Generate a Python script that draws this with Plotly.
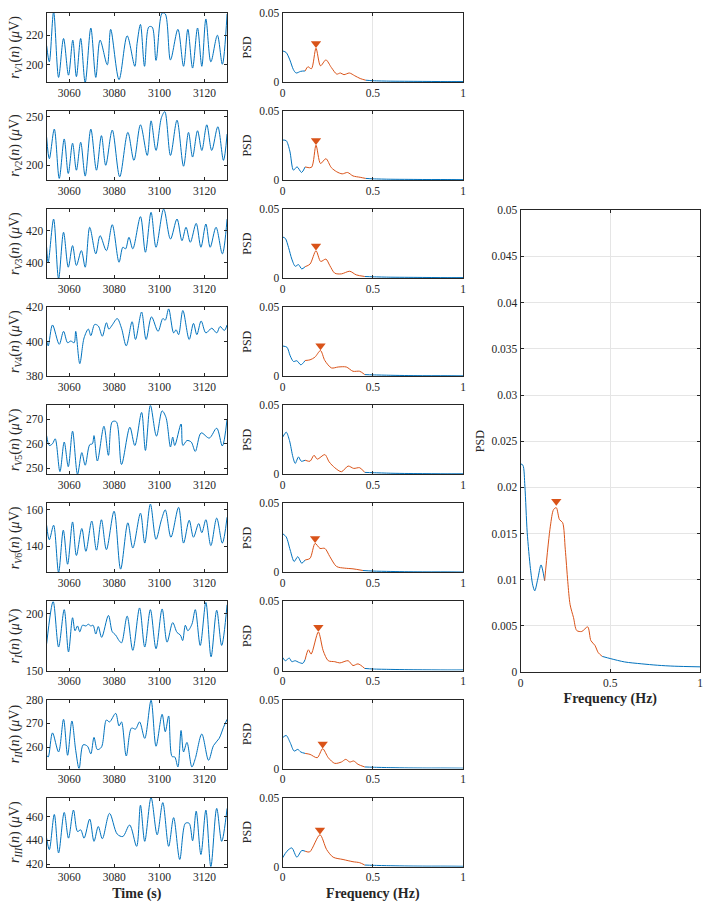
import plotly.graph_objects as go

BLUE = "#0072BD"
ORANGE = "#D95319"
INK = "#262626"
GRID = "#E5E5E5"
FONT = "Liberation Serif"
W, H = 708, 910

# band drawn in orange on every PSD
BAND = (0.12, 0.46)

# ---- time series (s, uV) ----
t_V1 = [3050.0, 3051.2, 3053.1, 3055.3, 3057.5, 3059.7, 3061.6, 3063.2, 3065.1, 3067.1, 3069.6, 3071.8, 3073.7,
        3076.9, 3078.4, 3082.1, 3085.7, 3089.1, 3090.1, 3091.6, 3093.4, 3095.3, 3096.8, 3098.5, 3101.2, 3102.6,
        3104.9, 3108.2, 3110.7, 3112.6, 3114.7, 3116.9, 3118.8, 3120.6, 3122.8, 3125.7, 3127.9, 3130.0]
r_V1 = [213, 202, 236, 191.5, 217.8, 193, 216.7, 192, 217.8, 188, 224.9, 191.5, 216.7, 200, 224, 190, 219.6, 199,
        214.4, 227.3, 199, 225.6, 225.5, 203, 235, 234.4, 203.3, 224, 199, 224, 197.8, 224.9, 199, 231, 202, 220,
        200.4, 234.4]

t_V2 = [3050.0, 3051.2, 3053.4, 3055.6, 3057.8, 3059.6, 3061.5, 3063.2, 3065.1, 3067.1, 3069.6, 3072.1, 3074.3,
        3076.2, 3079.1, 3082.4, 3086.0, 3088.7, 3091.6, 3094.6, 3096.3, 3098.5, 3100.9, 3102.4, 3104.9, 3107.8,
        3110.7, 3112.9, 3114.7, 3116.9, 3118.8, 3121.0, 3123.2, 3125.9, 3128.4, 3130.0]
r_V2 = [229, 206.8, 237.4, 186.4, 227.2, 191.5, 222.8, 194.9, 223.8, 188.8, 237.4, 194.9, 230.6, 200, 236.4, 188.1,
        234, 205.1, 241.8, 210.2, 245.9, 215.3, 249.3, 255.4, 210.2, 246.6, 199, 234, 208.5, 235.7, 215.3, 241.8,
        215.3, 239.8, 205.1, 232.3]

t_V3 = [3050.0, 3050.7, 3053.1, 3055.3, 3057.5, 3059.6, 3061.5, 3063.2, 3065.4, 3067.1, 3069.1, 3071.8, 3073.7,
        3076.5, 3079.1, 3082.1, 3083.8, 3085.0, 3086.5, 3088.2, 3091.6, 3093.8, 3096.3, 3098.5, 3101.9, 3104.9,
        3107.8, 3110.0, 3111.8, 3113.7, 3116.3, 3118.4, 3120.6, 3122.5, 3125.1, 3127.9, 3130.0]
r_V3 = [409.7, 400.4, 427.2, 390.1, 419, 397.3, 410.7, 398.4, 407.6, 397.3, 422.1, 405.6, 416.9, 407.6, 423.7, 400.4,
        409.7, 408.7, 415.9, 408.7, 428.7, 406.6, 431.4, 409.7, 433.4, 414.8, 427.2, 413.8, 422.1, 412.8, 424.5,
        409.7, 424.1, 409.7, 422.1, 405.6, 427.2]

t_V4 = [3050.0, 3050.7, 3052.6, 3055.6, 3057.5, 3059.3, 3060.7, 3062.2, 3062.9, 3064.7, 3066.6, 3068.5, 3069.6,
        3071.3, 3072.9, 3074.7, 3076.5, 3077.6, 3079.1, 3081.3, 3083.2, 3085.3, 3087.9, 3089.4, 3092.1, 3094.1,
        3096.5, 3099.4, 3101.5, 3102.6, 3104.1, 3106.3, 3107.4, 3108.5, 3110.4, 3113.2, 3115.1, 3116.6, 3118.5,
        3120.6, 3123.2, 3125.4, 3126.9, 3128.8, 3130.0]
r_V4 = [400.4, 397.6, 409.7, 398.5, 406, 399.4, 400.4, 399.4, 406, 387.3, 402.2, 407.3, 403.5, 410, 409.1, 403.2,
        411, 407.3, 409.7, 413.4, 407.8, 397.6, 411.6, 401.3, 417.2, 401.3, 414.4, 406, 413.4, 412.5, 419, 405.1,
        406.9, 404.1, 418.1, 401.3, 410.6, 404.1, 412, 405.1, 407.8, 405.1, 408.8, 406.5, 409.7]

t_V5 = [3050.0, 3051.2, 3052.6, 3053.8, 3055.9, 3057.8, 3059.6, 3061.5, 3063.7, 3065.6, 3067.1, 3069.1, 3070.3,
        3071.0, 3072.5, 3075.4, 3077.4, 3079.1, 3080.9, 3083.2, 3086.9, 3089.1, 3092.1, 3093.8, 3096.0, 3098.7,
        3101.2, 3102.9, 3104.9, 3105.9, 3106.8, 3109.6, 3110.4, 3112.2, 3114.1, 3115.9, 3118.5, 3122.1, 3125.4,
        3127.9, 3130.0]
r_V5 = [263.3, 259.3, 260, 262, 248.7, 260.7, 250.7, 265.1, 247.6, 256.4, 251.3, 259.6, 260, 263.3, 253, 267.1,
        255.3, 268.9, 268.9, 251.6, 266.7, 259.3, 272.7, 257.3, 275.6, 263.1, 273.3, 270.7, 258.7, 262.7, 259.3,
        268, 259.3, 261.3, 260.7, 256.9, 264.4, 262.3, 266.3, 259.1, 270]

t_V6 = [3050.0, 3051.2, 3053.1, 3055.3, 3057.4, 3059.3, 3061.5, 3063.2, 3065.6, 3067.4, 3070.0, 3072.1, 3074.3,
        3076.5, 3079.9, 3082.8, 3086.0, 3088.2, 3091.6, 3093.5, 3096.0, 3098.5, 3100.9, 3102.6, 3105.1, 3108.5,
        3110.7, 3113.2, 3115.1, 3117.4, 3118.8, 3120.6, 3122.8, 3125.4, 3127.9, 3130.0]
r_V6 = [151.6, 143.6, 151.6, 125.7, 148.9, 130.2, 153.4, 135, 149.8, 137.3, 153.9, 137.9, 154.6, 138.2, 159.3,
        127.5, 152.9, 139.1, 158.2, 141.8, 163.2, 143.9, 154.6, 160, 145, 161.4, 141.8, 154.3, 145, 152.5, 147.5,
        154.6, 140.4, 155.5, 141.8, 156]

t_I = [3050.0, 3052.9, 3055.3, 3057.8, 3059.7, 3061.5, 3062.6, 3063.7, 3064.7, 3065.9, 3067.4, 3068.5, 3069.6,
       3070.6, 3071.8, 3072.9, 3074.4, 3077.4, 3079.1, 3080.6, 3082.1, 3083.2, 3085.7, 3088.2, 3091.2, 3093.5,
       3096.0, 3098.5, 3101.2, 3103.4, 3105.9, 3107.8, 3109.3, 3110.3, 3111.5, 3112.6, 3114.4, 3115.9, 3118.1,
       3120.6, 3122.9, 3125.4, 3127.6, 3130.0]
r_I = [173.4, 210.6, 170.6, 203.4, 166.3, 196.3, 184.9, 189.1, 184, 189.7, 189.1, 190.6, 189.1, 189.7, 182, 188.6,
       179.1, 198.3, 184, 181.1, 176.3, 174.3, 197.7, 167.7, 204.9, 170.6, 203.4, 169.1, 204, 174.9, 192, 183.4,
       181.1, 176.3, 189.7, 184.9, 190.6, 203.4, 172, 209.7, 162, 202.9, 172, 207.7]

t_II = [3050.0, 3050.7, 3052.6, 3055.3, 3057.5, 3059.3, 3061.2, 3062.9, 3064.4, 3066.2, 3068.1, 3069.6, 3071.0,
        3072.5, 3074.3, 3076.5, 3077.9, 3080.6, 3082.1, 3083.2, 3085.3, 3087.6, 3089.4, 3091.2, 3093.5, 3096.3,
        3098.5, 3101.2, 3102.6, 3104.1, 3105.6, 3106.8, 3108.2, 3109.6, 3110.7, 3112.2, 3114.4, 3115.9, 3118.8,
        3121.8, 3124.0, 3126.5, 3128.4, 3130.0]
r_II = [256.6, 255.9, 266, 258, 271.7, 256.6, 271, 258.6, 251, 261, 260.4, 257.2, 264.1, 259, 260, 271.4, 270.6,
        274.2, 268.9, 270.6, 256.3, 268, 267.6, 270.6, 263.7, 279.7, 260.4, 273.8, 266.5, 273.1, 256.1, 255.9,
        251.7, 267, 258, 262, 251.7, 255.2, 265.5, 254.5, 260.7, 263.7, 268.3, 271.7]

t_III = [3050.0, 3051.2, 3053.4, 3055.3, 3057.8, 3059.7, 3061.9, 3063.7, 3065.1, 3066.6, 3069.1, 3071.0, 3072.9,
         3074.7, 3077.9, 3081.3, 3083.8, 3086.8, 3089.9, 3091.6, 3093.5, 3096.3, 3099.0, 3101.5, 3104.1, 3106.3,
         3109.0, 3111.5, 3113.2, 3114.7, 3116.3, 3118.4, 3120.6, 3122.8, 3125.4, 3127.6, 3130.0]
r_III = [441.9, 432.2, 461.9, 429.4, 463.6, 441.9, 465.6, 447.5, 448.9, 441.9, 458, 439.2, 451.7, 441.4, 462.8,
         445.3, 443.3, 453, 435, 469.7, 439.2, 476.1, 444.7, 471.9, 435, 459.2, 423.9, 454.4, 454.4, 439.7, 464.7,
         428.1, 465.6, 417.8, 467, 439.2, 467]

# y ranges and tick labels of the time plots
yr_V1, yt_V1 = [188.4, 235.1], [200, 220]
yr_V2, yt_V2 = [184.7, 256.1], [200, 250]
yr_V3, yt_V3 = [390.5, 433.4], [400, 420]
yr_V4, yt_V4 = [380, 420], [380, 400, 420]
yr_V5, yt_V5 = [247.6, 275.6], [250, 260, 270]
yr_V6, yt_V6 = [125.7, 163.6], [140, 160]
yr_I, yt_I = [150, 210.6], [150, 200]
yr_II, yt_II = [251, 280], [260, 270, 280]
yr_III, yt_III = [417.8, 476.1], [420, 440, 460]

# ---- PSD curves (Hz, a.u.) ----
f_V1 = [0, 0.02, 0.04, 0.06, 0.075, 0.1, 0.125, 0.14, 0.16, 0.185, 0.21, 0.24, 0.27, 0.3, 0.32, 0.34, 0.37, 0.4,
        0.43, 0.46, 0.5, 0.6, 0.7, 0.8, 0.9, 1.0]
p_V1 = [0.0225, 0.0213, 0.016, 0.0089, 0.0065, 0.0077, 0.008, 0.011, 0.0096, 0.0244, 0.0117, 0.016, 0.0105,
        0.0057, 0.0065, 0.0053, 0.0065, 0.0045, 0.0025, 0.0013, 0.0009, 0.0006, 0.0005, 0.0004, 0.0003, 0.0003]

f_V2 = [0, 0.02, 0.04, 0.06, 0.08, 0.105, 0.125, 0.16, 0.185, 0.21, 0.24, 0.27, 0.3, 0.33, 0.36, 0.39, 0.43, 0.46,
        0.5, 0.6, 0.7, 0.8, 0.9, 1.0]
p_V2 = [0.029, 0.0285, 0.021, 0.0072, 0.0096, 0.0055, 0.0095, 0.0092, 0.0252, 0.012, 0.0155, 0.009, 0.006, 0.0045,
        0.0055, 0.003, 0.002, 0.0012, 0.0009, 0.0006, 0.0005, 0.0004, 0.0004, 0.0003]

f_V3 = [0, 0.015, 0.033, 0.051, 0.07, 0.088, 0.106, 0.125, 0.152, 0.185, 0.211, 0.24, 0.262, 0.289, 0.326, 0.372,
        0.408, 0.455, 0.5, 0.6, 0.7, 0.8, 0.9, 1.0]
p_V3 = [0.0298, 0.0288, 0.0221, 0.0138, 0.0086, 0.0098, 0.0067, 0.0083, 0.0102, 0.0198, 0.0121, 0.0138, 0.009,
        0.0036, 0.0031, 0.005, 0.0024, 0.0012, 0.001, 0.0007, 0.0006, 0.0005, 0.0004, 0.0004]

f_V4 = [0, 0.024, 0.042, 0.06, 0.079, 0.101, 0.125, 0.152, 0.179, 0.21, 0.234, 0.271, 0.308, 0.353, 0.39, 0.427,
        0.455, 0.5, 0.6, 0.7, 0.8, 0.9, 1.0]
p_V4 = [0.0219, 0.021, 0.0148, 0.0107, 0.0112, 0.0083, 0.0114, 0.0119, 0.0138, 0.0186, 0.0114, 0.006, 0.0067,
        0.0067, 0.0036, 0.0036, 0.0012, 0.001, 0.0007, 0.0005, 0.0004, 0.0004, 0.0003]

f_V5 = [0, 0.02, 0.038, 0.057, 0.07, 0.088, 0.103, 0.125, 0.152, 0.174, 0.192, 0.234, 0.258, 0.289, 0.326, 0.363,
        0.394, 0.427, 0.455, 0.5, 0.6, 0.7, 0.8, 0.9, 1.0]
p_V5 = [0.0269, 0.0305, 0.0245, 0.0126, 0.0079, 0.0126, 0.0095, 0.0102, 0.0095, 0.0138, 0.011, 0.0143, 0.009,
        0.0048, 0.0019, 0.006, 0.0043, 0.0048, 0.0014, 0.0012, 0.0008, 0.0006, 0.0005, 0.0004, 0.0004]

f_V6 = [0, 0.02, 0.042, 0.064, 0.084, 0.106, 0.125, 0.152, 0.18, 0.207, 0.234, 0.262, 0.299, 0.344, 0.39, 0.445,
        0.5, 0.6, 0.7, 0.8, 0.9, 1.0]
p_V6 = [0.0281, 0.0257, 0.0162, 0.0079, 0.0114, 0.0067, 0.009, 0.0102, 0.021, 0.0174, 0.0174, 0.0114, 0.0043,
        0.0031, 0.0026, 0.0014, 0.001, 0.0007, 0.0005, 0.0004, 0.0004, 0.0003]

f_I = [0, 0.015, 0.037, 0.051, 0.07, 0.088, 0.112, 0.125, 0.143, 0.158, 0.198, 0.225, 0.253, 0.289, 0.317, 0.363,
       0.39, 0.418, 0.455, 0.5, 0.6, 0.7, 0.8, 0.9, 1.0]
p_I = [0.0095, 0.0071, 0.009, 0.0064, 0.0071, 0.006, 0.0052, 0.008, 0.015, 0.0119, 0.0279, 0.0143, 0.0071, 0.0064,
       0.0055, 0.0071, 0.0036, 0.0048, 0.0015, 0.0011, 0.0008, 0.0006, 0.0005, 0.0004, 0.0004]

f_II = [0, 0.02, 0.042, 0.064, 0.084, 0.101, 0.125, 0.152, 0.192, 0.222, 0.253, 0.289, 0.326, 0.35, 0.372, 0.394,
        0.418, 0.455, 0.5, 0.6, 0.7, 0.8, 0.9, 1.0]
p_II = [0.0224, 0.024, 0.0188, 0.0127, 0.0139, 0.012, 0.011, 0.0103, 0.0079, 0.0144, 0.0079, 0.0038, 0.0048,
        0.0067, 0.0048, 0.0055, 0.0031, 0.0012, 0.001, 0.0007, 0.0005, 0.0004, 0.0004, 0.0003]

f_III = [0, 0.024, 0.051, 0.079, 0.106, 0.125, 0.15, 0.207, 0.244, 0.28, 0.335, 0.39, 0.427, 0.455, 0.5, 0.6, 0.7,
         0.8, 0.9, 1.0]
p_III = [0.0064, 0.0112, 0.0136, 0.0069, 0.0117, 0.0112, 0.0107, 0.0231, 0.0124, 0.0069, 0.0052, 0.0036, 0.0029,
         0.0012, 0.001, 0.0007, 0.0005, 0.0004, 0.0004, 0.0003]

# averaged PSD (right panel)
f_avg = [0, 0.013, 0.024, 0.037, 0.055, 0.068, 0.079, 0.096, 0.114, 0.134, 0.166, 0.184, 0.199, 0.217, 0.234,
         0.249, 0.263, 0.276, 0.295, 0.313, 0.341, 0.374, 0.392, 0.414, 0.433, 0.455, 0.503, 0.58, 0.672, 0.764,
         0.856, 1.0]
p_avg = [0.02255, 0.0224, 0.0201, 0.0151, 0.0112, 0.0094, 0.0088, 0.0101, 0.0116, 0.0099, 0.0158, 0.0176, 0.0178,
         0.0165, 0.0162, 0.0133, 0.0098, 0.0073, 0.0059, 0.0045, 0.0044, 0.0049, 0.0034, 0.0029, 0.0021, 0.0017,
         0.00145, 0.0011, 0.0009, 0.00074, 0.00064, 0.00057]

# frequency of the marked peak (None = no marker)
peak_f = {"V1": 0.185, "V2": 0.185, "V3": 0.185, "V4": 0.21, "V5": None, "V6": 0.18,
          "I": 0.198, "II": 0.222, "III": 0.207}
peak_f_avg = 0.199

ylabels = {
    "V1": "<i>r</i><sub><i>V</i>1</sub>(<i>n</i>) (<i>μ</i>V)",
    "V2": "<i>r</i><sub><i>V</i>2</sub>(<i>n</i>) (<i>μ</i>V)",
    "V3": "<i>r</i><sub><i>V</i>3</sub>(<i>n</i>) (<i>μ</i>V)",
    "V4": "<i>r</i><sub><i>V</i>4</sub>(<i>n</i>) (<i>μ</i>V)",
    "V5": "<i>r</i><sub><i>V</i>5</sub>(<i>n</i>) (<i>μ</i>V)",
    "V6": "<i>r</i><sub><i>V</i>6</sub>(<i>n</i>) (<i>μ</i>V)",
    "I": "<i>r</i><sub><i>I</i></sub>(<i>n</i>) (<i>μ</i>V)",
    "II": "<i>r</i><sub><i>II</i></sub>(<i>n</i>) (<i>μ</i>V)",
    "III": "<i>r</i><sub><i>III</i></sub>(<i>n</i>) (<i>μ</i>V)",
}

leads = [
    ("V1", t_V1, r_V1, yr_V1, yt_V1, f_V1, p_V1),
    ("V2", t_V2, r_V2, yr_V2, yt_V2, f_V2, p_V2),
    ("V3", t_V3, r_V3, yr_V3, yt_V3, f_V3, p_V3),
    ("V4", t_V4, r_V4, yr_V4, yt_V4, f_V4, p_V4),
    ("V5", t_V5, r_V5, yr_V5, yt_V5, f_V5, p_V5),
    ("V6", t_V6, r_V6, yr_V6, yt_V6, f_V6, p_V6),
    ("I", t_I, r_I, yr_I, yt_I, f_I, p_I),
    ("II", t_II, r_II, yr_II, yt_II, f_II, p_II),
    ("III", t_III, r_III, yr_III, yt_III, f_III, p_III),
]

# layout in pixels
LEFT_X = (44, 226)
MID_X = (282, 464)
RIGHT_X = (522, 703)
ROW_TOP0, ROW_STEP, ROW_H = 7, 99.4, 70
RIGHT_Y = (207, 675)

TICK_SIZE = 11.5
XTITLE = dict(family=FONT, size=14, color=INK)
PSD_TITLE = dict(text="PSD", font=dict(family=FONT, size=12, color=INK), standoff=4)


def px_x(a, b):
    return [a / W, b / W]


def px_y(top, bottom):
    return [1 - bottom / H, 1 - top / H]


def axis_style(**kw):
    base = dict(
        showline=True, linecolor=INK, linewidth=1, mirror="ticks",
        ticks="inside", ticklen=3, tickcolor=INK, tickwidth=1,
        tickfont=dict(family=FONT, size=TICK_SIZE, color=INK),
        showgrid=False, zeroline=False,
    )
    base.update(kw)
    return base


def split_band(f, p):
    lo, hi = BAND
    idx = [i for i, v in enumerate(f) if lo <= v <= hi]
    i0, i1 = idx[0], idx[-1]
    return (f[:i0 + 1], p[:i0 + 1]), (f[i0:i1 + 1], p[i0:i1 + 1]), (f[i1:], p[i1:])


def add_psd(fig, f, p, xa, ya, pk, offset):
    low, band, high = split_band(f, p)
    for seg, col in ((low, BLUE), (high, BLUE), (band, ORANGE)):
        fig.add_trace(go.Scatter(
            x=seg[0], y=seg[1], mode="lines", xaxis=xa, yaxis=ya,
            line=dict(color=col, width=1, shape="spline", smoothing=0.8),
            showlegend=False, hoverinfo="skip"))
    if pk is not None:
        fig.add_trace(go.Scatter(
            x=[pk], y=[p[f.index(pk)] + offset], mode="markers", xaxis=xa, yaxis=ya,
            marker=dict(symbol="triangle-down", size=9, color=ORANGE, line=dict(width=0)),
            showlegend=False, hoverinfo="skip"))


fig = go.Figure()
layout = {}
n = len(leads)

for i, (name, t, r, yr, yt, f, p) in enumerate(leads):
    top = ROW_TOP0 + ROW_STEP * i
    bottom = top + ROW_H
    last = i == n - 1
    ka, kb = 2 * i + 1, 2 * i + 2

    fig.add_trace(go.Scatter(
        x=t, y=r, mode="lines", xaxis=f"x{ka}", yaxis=f"y{ka}",
        line=dict(color=BLUE, width=1, shape="spline", smoothing=0.9),
        showlegend=False, hoverinfo="skip"))

    xa = axis_style(domain=px_x(*LEFT_X), anchor=f"y{ka}", range=[3050, 3130],
                    tickvals=[3060, 3080, 3100, 3120])
    xb = axis_style(domain=px_x(*MID_X), anchor=f"y{kb}", range=[0, 1], tickvals=[0, 0.5, 1],
                    ticktext=["0", "0.5", "1"], showgrid=True, gridcolor=GRID)
    if last:
        xa["title"] = dict(text="<b>Time (s)</b>", font=XTITLE, standoff=5)
        xb["title"] = dict(text="<b>Frequency (Hz)</b>", font=XTITLE, standoff=5)
    layout[f"xaxis{ka}"] = xa
    layout[f"xaxis{kb}"] = xb

    layout[f"yaxis{ka}"] = axis_style(
        domain=px_y(top, bottom), anchor=f"x{ka}", range=yr, tickvals=yt,
        title=dict(text=ylabels[name], font=dict(family=FONT, size=14, color=INK), standoff=3))

    add_psd(fig, f, p, f"x{kb}", f"y{kb}", peak_f[name], 0.0035)
    layout[f"yaxis{kb}"] = axis_style(
        domain=px_y(top, bottom), anchor=f"x{kb}", range=[0, 0.05], tickvals=[0, 0.05],
        ticktext=["0", "0.05"], title=PSD_TITLE)

# right panel
kr = 2 * n + 1
add_psd(fig, f_avg, p_avg, f"x{kr}", f"y{kr}", peak_f_avg, 0.0007)
layout[f"xaxis{kr}"] = axis_style(
    domain=px_x(*RIGHT_X), anchor=f"y{kr}", range=[0, 1], tickvals=[0, 0.5, 1],
    ticktext=["0", "0.5", "1"], showgrid=True, gridcolor=GRID,
    title=dict(text="<b>Frequency (Hz)</b>", font=XTITLE, standoff=5))
layout[f"yaxis{kr}"] = axis_style(
    domain=px_y(*RIGHT_Y), anchor=f"x{kr}", range=[0, 0.05],
    tickvals=[0, 0.005, 0.01, 0.015, 0.02, 0.025, 0.03, 0.035, 0.04, 0.045, 0.05],
    ticktext=["0", "0.005", "0.01", "0.015", "0.02", "0.025", "0.03", "0.035", "0.04", "0.045", "0.05"],
    showgrid=True, gridcolor=GRID, title=PSD_TITLE)

fig.update_layout(
    width=W, height=H,
    margin=dict(l=0, r=0, t=0, b=0),
    paper_bgcolor="white", plot_bgcolor="white",
    font=dict(family=FONT, size=11, color=INK),
    **layout,
)

fig.write_html("out.html", config={"displayModeBar": False},
               post_script="document.body.style.margin='0';")
